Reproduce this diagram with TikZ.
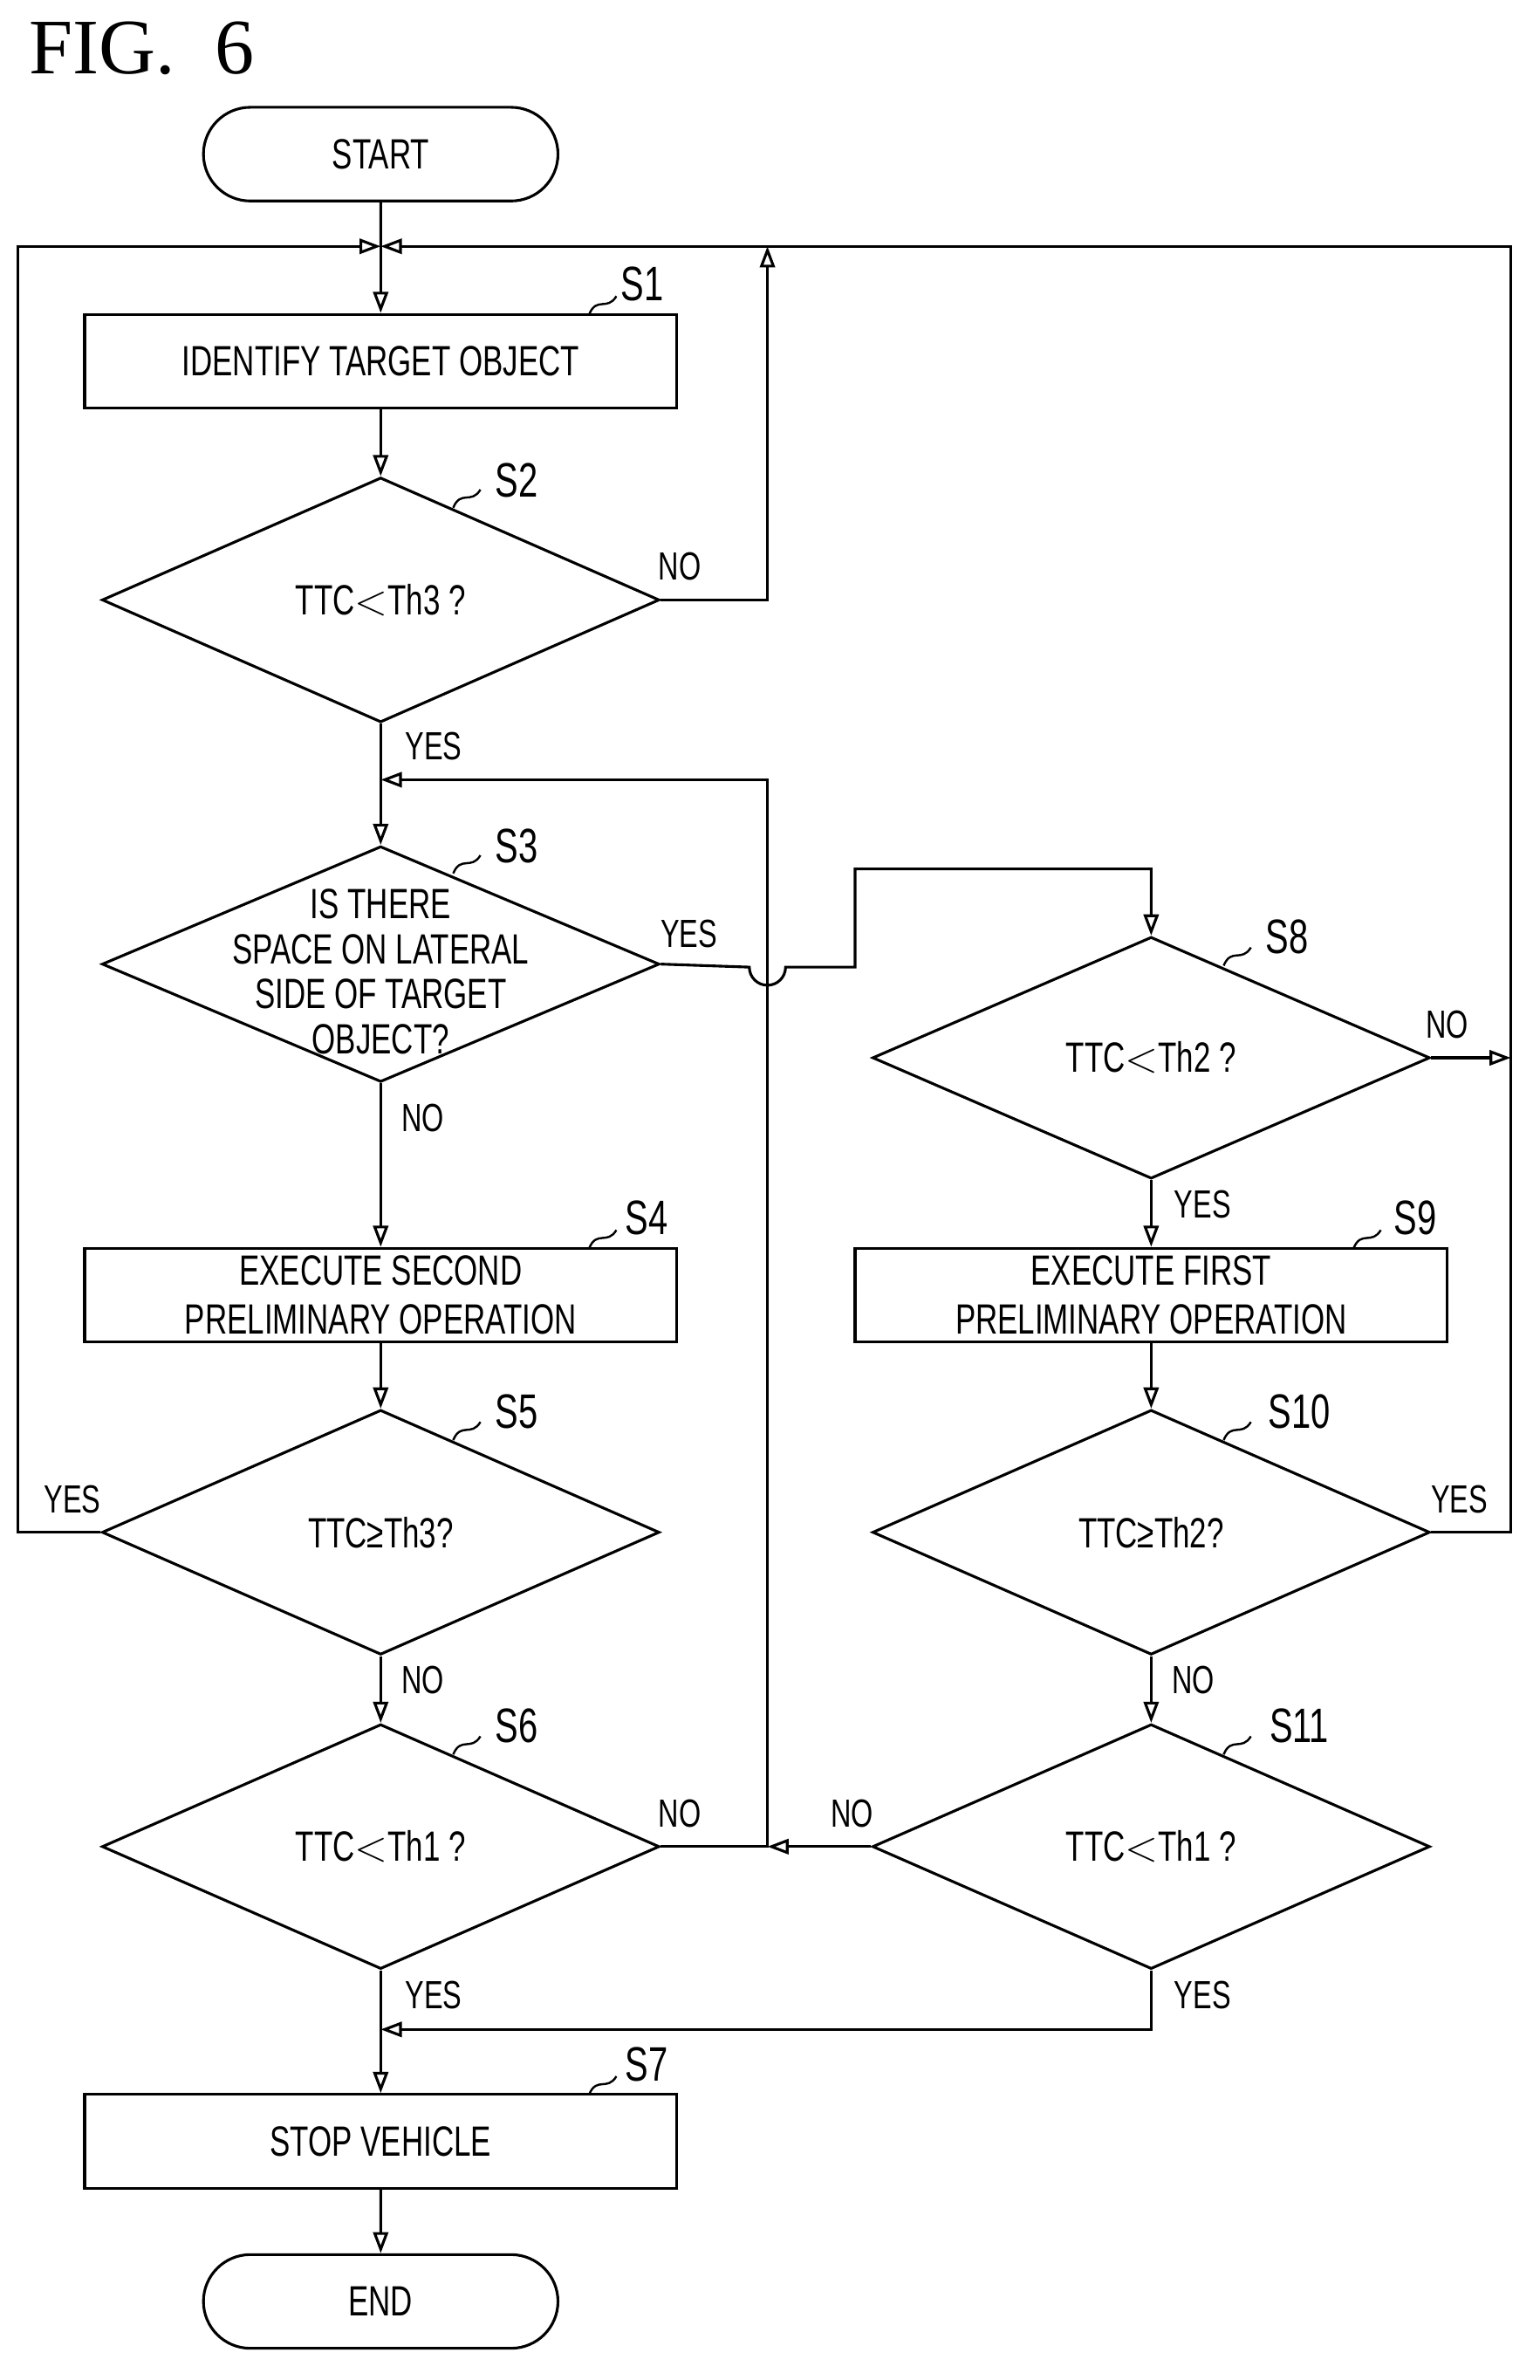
\documentclass[tikz,border=0pt]{standalone}
\usepackage{fontspec}
\setmainfont{Liberation Sans}[FakeStretch=0.72]
\newfontfamily\figfont{Liberation Serif}
\usetikzlibrary{shapes.geometric,shapes.misc,arrows.meta}
\begin{document}
\begin{tikzpicture}[x=0.5pt,y=-0.5pt,line width=0.9pt,
  every node/.style={font=\fontsize{14}{16}\selectfont},
  box/.style={draw,minimum width=196pt,minimum height=31pt,inner sep=0pt,align=center},
  dec/.style={draw,diamond,minimum width=184.5pt,minimum height=81pt,inner sep=0pt},
  term/.style={draw,rounded rectangle,minimum width=124pt,minimum height=31pt},
  arr/.style={-{Triangle[open,length=7pt,width=5pt]}},
  lab/.style={font=\fontsize{16}{18}\selectfont},
  yn/.style={font=\fontsize{13}{15}\selectfont}]
\useasboundingbox (0,0) rectangle (1019,1575);
\node[font=\figfont\fontsize{26}{28}\selectfont,anchor=west] (fig) at (12,32) {FIG.\ \ 6};
% nodes
\node[term] (start) at (252,102) {START};
\node[box] (s1) at (252,239) {IDENTIFY TARGET OBJECT};
\node[dec] (s2) at (252,397) {};
\node (s2t) at (252,397) {TTC$<$Th3 ?};
\node[dec,minimum height=78pt] (s3) at (252,638) {};
\node[align=center,font=\fontsize{14}{15}\selectfont] (s3t) at (252,643) {IS THERE\\SPACE ON LATERAL\\SIDE OF TARGET\\OBJECT?};
\node[box] (s4) at (252,857) {EXECUTE SECOND\\PRELIMINARY OPERATION};
\node[dec] (s5) at (252,1014) {};
\node (s5t) at (252,1014) {TTC≥Th3?};
\node[dec] (s6) at (252,1222) {};
\node (s6t) at (252,1222) {TTC$<$Th1 ?};
\node[box] (s7) at (252,1417) {STOP VEHICLE};
\node[term] (end) at (252,1523) {END};
\node[dec,minimum height=80pt] (s8) at (762,700) {};
\node (s8t) at (762,700) {TTC$<$Th2 ?};
\node[box] (s9) at (762,857) {EXECUTE FIRST\\PRELIMINARY OPERATION};
\node[dec] (s10) at (762,1014) {};
\node (s10t) at (762,1014) {TTC≥Th2?};
\node[dec] (s11) at (762,1222) {};
\node (s11t) at (762,1222) {TTC$<$Th1 ?};
% coordinates
\coordinate (m) at (252,163);
\coordinate (r) at (508,516);
\coordinate (j) at (508,1222);
\coordinate (y) at (252,1343);
% connectors
\draw (start) -- (m);
\draw[arr] (m) -- (s1);
\draw[arr] (s1) -- (s2);
\draw[arr] (s2) -- (s3);
\draw[arr] (s3) -- (s4);
\draw[arr] (s4) -- (s5);
\draw[arr] (s5) -- (s6);
\draw[arr] (s6) -- (s7);
\draw[arr] (s7) -- (end);
\draw[arr] (s5.west) -- (12,1014) -- (12,163) -- (m);
\draw[arr] (s10.east) -- (1000,1014) -- (1000,163) -- (m);
\draw[arr] (s2.east) -- (508,397) -- (508,163);
\draw[arr] (s6.east) -- (j) -- (r) -- (252,516);
\draw[arr] (s11.west) -- (j);
\draw[arr] (s3.east) -- (496,640) arc[start angle=180,end angle=0,radius=12] -- (566,640) -- (566,575) -- (762,575) -- (s8.north);
\draw[arr] (s8.east) -- (1000,700);
\draw[arr] (s8) -- (s9);
\draw[arr] (s9) -- (s10);
\draw[arr] (s10) -- (s11);
\draw[arr] (s11.south) -- (762,1343) -- (y);
% step labels
\foreach \n/\x/\y in {S1/425/188,S2/342/318,S3/342/560,S4/428/806,S5/342/934,S6/342/1142,S7/428/1366,S8/852/620,S9/937/806,S10/860/934,S11/860/1142}{
  \node[lab] (l\n) at (\x,\y) {\n};
}
\foreach \a/\b in {390/208,300/336,300/578,390/826,300/953,300/1161,390/1386,810/639,896/826,810/953,810/1161}{
  \draw[line width=0.7pt] (\a,\b) .. controls (\a+5,\b-12) and (\a+12,\b-2) .. (\a+18,\b-12);
}
% yes/no
\foreach \t/\x/\y in {NO/450/375,YES/287/494,YES/456/618,NO/280/740,YES/48/992,NO/280/1112,NO/450/1200,YES/287/1320,NO/958/678,YES/796/797,YES/966/992,NO/790/1112,NO/564/1200,YES/796/1320}{
  \node[yn] at (\x,\y) {\t};
}
\end{tikzpicture}
\end{document}
